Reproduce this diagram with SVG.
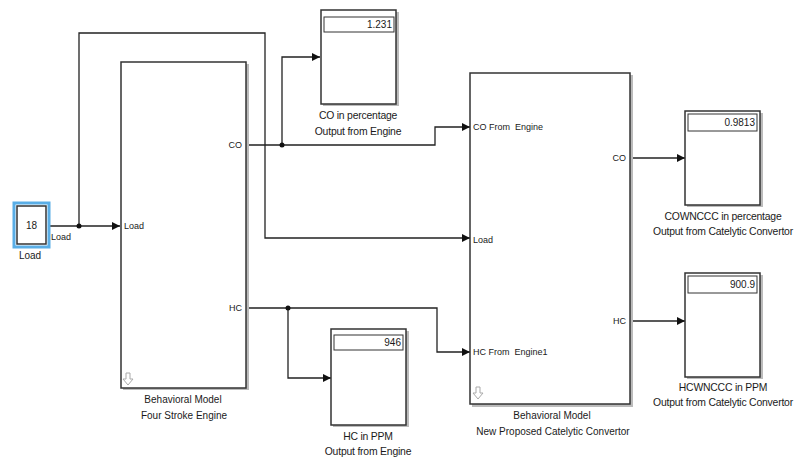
<svg xmlns="http://www.w3.org/2000/svg" width="797" height="460" viewBox="0 0 797 460">
<defs>
<style>
text{font-family:"Liberation Sans",Arial,sans-serif;fill:#1a1a1a}
.lbl{font-size:10px;text-anchor:middle}
.lbs{font-size:10.4px;text-anchor:middle;letter-spacing:-0.2px}
.port{font-size:9px;white-space:pre}
.val{font-size:10px;text-anchor:end}
.blk{fill:#fff;stroke:#333;stroke-width:1.5}
.shd{fill:#bbb}
.disp{fill:#fff;stroke:#333;stroke-width:1}
.wire{fill:none;stroke:#222;stroke-width:1.3}
.icon{fill:none;stroke:#aaa;stroke-width:1}
</style>
<marker id="ar" markerUnits="userSpaceOnUse" markerWidth="9" markerHeight="8" refX="8" refY="4" orient="auto">
<path d="M0,0 L8,4 L0,8 z" fill="#111"/>
</marker>
</defs>
<rect width="797" height="460" fill="#fff"/>

<g id="connectors">
<path class="wire" d="M48,226 H120" marker-end="url(#ar)"/>
<path class="wire" d="M79,226 V33 H265 V238 H470" marker-end="url(#ar)"/>
<path class="wire" d="M246,145 H435 V127 H470" marker-end="url(#ar)"/>
<path class="wire" d="M282,145 V57 H320" marker-end="url(#ar)"/>
<path class="wire" d="M246,308 H437 V352 H470" marker-end="url(#ar)"/>
<path class="wire" d="M288,308 V378 H331" marker-end="url(#ar)"/>
<path class="wire" d="M631,158 H685" marker-end="url(#ar)"/>
<path class="wire" d="M631,321 H685" marker-end="url(#ar)"/>
<circle cx="79" cy="226" r="2.5" fill="#111"/>
<circle cx="282" cy="145" r="2.5" fill="#111"/>
<circle cx="288" cy="308" r="2.5" fill="#111"/>
<text class="port" x="51" y="240">Load</text>
</g>

<g id="load-const">
<rect x="14" y="203" width="35" height="44" fill="none" stroke="#5aaee6" stroke-width="3"/>
<rect x="17" y="206" width="29" height="38" class="blk" stroke-width="1.2"/>
<text x="31.5" y="229" class="lbl">18</text>
<text x="30" y="259" class="lbl">Load</text>
</g>

<g id="engine">
<rect x="123" y="64" width="126" height="326" class="shd"/>
<rect x="121" y="62" width="125" height="326" class="blk"/>
<text class="port" x="124" y="229">Load</text>
<text class="port" x="242" y="148" text-anchor="end">CO</text>
<text class="port" x="242" y="311" text-anchor="end">HC</text>
<path class="icon" d="M126,373 h4 v6 h3 l-5,6 l-5,-6 h3 z"/>
<text class="lbl" x="183" y="403">Behavioral Model</text>
<text class="lbl" x="184" y="419">Four Stroke Engine</text>
</g>

<g id="co-scope">
<rect x="323" y="12" width="76" height="94" class="shd"/>
<rect x="321" y="10" width="75" height="94" class="blk"/>
<rect x="324" y="17" width="70" height="15" class="disp"/>
<text class="val" x="392" y="28">1.231</text>
<text class="lbs" x="358" y="119">CO in percentage</text>
<text class="lbs" x="358" y="135">Output from Engine</text>
</g>

<g id="hc-scope">
<rect x="333" y="331" width="76" height="96" class="shd"/>
<rect x="331" y="329" width="75" height="96" class="blk"/>
<rect x="334" y="335" width="69" height="15" class="disp"/>
<text class="val" x="401" y="346">946</text>
<text class="lbs" x="368" y="440">HC in PPM</text>
<text class="lbs" x="368" y="455">Output from Engine</text>
</g>

<g id="converter">
<rect x="472" y="75" width="161" height="332" class="shd"/>
<rect x="470" y="73" width="160" height="331" class="blk"/>
<text class="port" x="473" y="130">CO From  Engine</text>
<text class="port" x="473" y="243">Load</text>
<text class="port" x="473" y="355">HC From  Engine1</text>
<text class="port" x="626" y="161" text-anchor="end">CO</text>
<text class="port" x="626" y="324" text-anchor="end">HC</text>
<path class="icon" d="M476,387 h4 v6 h3 l-5,6 l-5,-6 h3 z"/>
<text class="lbl" x="552" y="419">Behavioral Model</text>
<text class="lbl" x="553" y="435">New Proposed Catelytic Convertor</text>
</g>

<g id="cownccc-scope">
<rect x="687" y="113" width="76" height="94" class="shd"/>
<rect x="685" y="111" width="75" height="94" class="blk"/>
<rect x="688" y="114" width="69" height="17" class="disp"/>
<text class="val" x="755" y="126">0.9813</text>
<text class="lbs" x="723" y="220">COWNCCC in percentage</text>
<text class="lbs" x="723" y="235">Output from Catelytic Convertor</text>
</g>

<g id="hcwnccc-scope">
<rect x="687" y="275" width="76" height="104" class="shd"/>
<rect x="685" y="273" width="75" height="104" class="blk"/>
<rect x="688" y="276" width="69" height="17" class="disp"/>
<text class="val" x="755" y="288">900.9</text>
<text class="lbs" x="723" y="391">HCWNCCC in PPM</text>
<text class="lbs" x="723" y="406">Output from Catelytic Convertor</text>
</g>
</svg>
